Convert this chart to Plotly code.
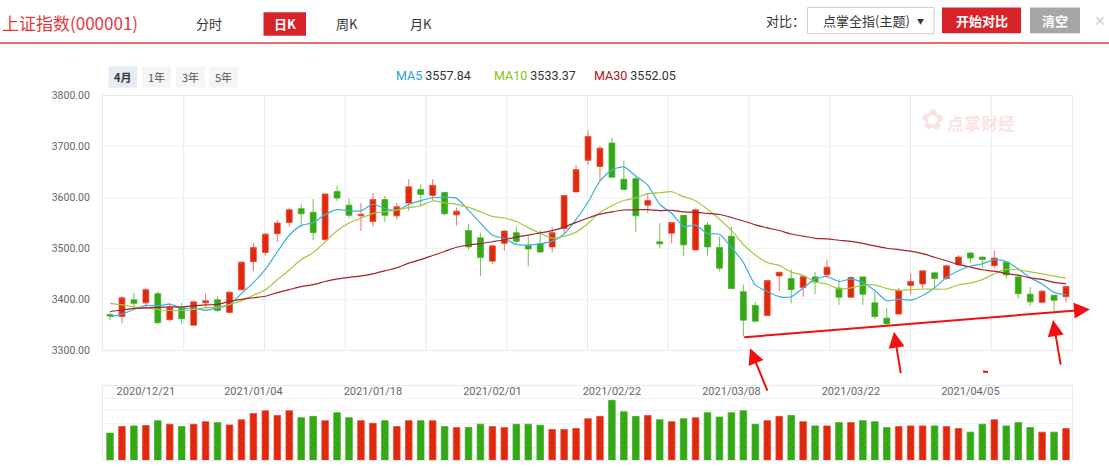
import plotly.graph_objects as go

# ---------------- data ----------------
tick_pos = [3, 12, 22, 32, 42, 52, 62, 72]
tick_text = ["2020/12/21", "2021/01/04", "2021/01/18", "2021/02/01",
             "2021/02/22", "2021/03/08", "2021/03/22", "2021/04/05"]

opens = [3370, 3366, 3399, 3393, 3411, 3360, 3384, 3349, 3393, 3399,
         3374, 3419, 3474, 3492, 3529, 3551, 3578, 3571, 3517, 3612,
         3585, 3564, 3553, 3596, 3564, 3589, 3616, 3604, 3610, 3566,
         3535, 3521, 3475, 3510, 3531, 3505, 3509, 3503, 3539, 3611,
         3720, 3661, 3707, 3616, 3637, 3594, 3513, 3530, 3565, 3497,
         3546, 3461, 3524, 3415, 3388, 3368, 3446, 3441, 3423, 3434,
         3448, 3422, 3404, 3444, 3393, 3352, 3371, 3427, 3430, 3452,
         3441, 3468, 3491, 3483, 3466, 3473, 3444, 3410, 3394, 3408,
         3405]
highs = [3374, 3406, 3413, 3423, 3415, 3393, 3393, 3397, 3411, 3406,
         3415, 3475, 3511, 3530, 3556, 3579, 3588, 3597, 3608, 3623,
         3599, 3589, 3609, 3603, 3590, 3636, 3626, 3636, 3611, 3580,
         3548, 3531, 3507, 3536, 3543, 3524, 3536, 3542, 3605, 3664,
         3732, 3701, 3718, 3672, 3644, 3607, 3550, 3552, 3566, 3578,
         3552, 3523, 3542, 3429, 3395, 3438, 3454, 3459, 3448, 3454,
         3478, 3439, 3445, 3445, 3415, 3383, 3422, 3450, 3457, 3453,
         3468, 3487, 3492, 3484, 3496, 3474, 3448, 3424, 3419, 3409,
         3427]
lows = [3359, 3353, 3384, 3382, 3352, 3356, 3352, 3347, 3383, 3375,
        3373, 3418, 3455, 3486, 3513, 3543, 3545, 3516, 3516, 3593,
        3559, 3534, 3543, 3552, 3556, 3574, 3583, 3594, 3565, 3545,
        3497, 3446, 3469, 3495, 3507, 3465, 3491, 3492, 3529, 3610,
        3664, 3632, 3639, 3615, 3532, 3569, 3500, 3510, 3485, 3496,
        3486, 3455, 3420, 3327, 3355, 3367, 3416, 3392, 3405, 3410,
        3441, 3389, 3403, 3389, 3362, 3346, 3370, 3410, 3422, 3422,
        3438, 3466, 3471, 3462, 3461, 3441, 3402, 3387, 3393, 3376,
        3394]
closes = [3367, 3403, 3392, 3419, 3354, 3384, 3362, 3395, 3397, 3378,
          3414, 3473, 3502, 3528, 3550, 3576, 3568, 3531, 3607, 3599,
          3565, 3567, 3596, 3565, 3582, 3621, 3606, 3624, 3568, 3573,
          3503, 3482, 3505, 3534, 3514, 3499, 3493, 3531, 3604, 3655,
          3673, 3697, 3640, 3636, 3564, 3585, 3509, 3551, 3507, 3576,
          3503, 3502, 3421, 3359, 3357, 3437, 3453, 3419, 3445, 3444,
          3463, 3404, 3443, 3410, 3366, 3363, 3418, 3435, 3456, 3441,
          3466, 3483, 3481, 3478, 3481, 3448, 3411, 3395, 3416, 3398,
          3425]
ma5 = [3366, 3371, 3380, 3388, 3387.0, 3390.4, 3382.2, 3382.8, 3378.4, 3383.2,
       3389.2, 3411.4, 3432.8, 3459.0, 3493.4, 3525.8, 3544.8, 3550.6, 3566.4, 3576.2,
       3574.0, 3573.8, 3586.8, 3578.4, 3575.0, 3586.2, 3594.0, 3599.6, 3600.2, 3598.4,
       3574.8, 3550.0, 3526.2, 3519.4, 3507.6, 3506.8, 3509.0, 3514.2, 3528.2, 3556.4,
       3591.2, 3632.0, 3653.8, 3660.2, 3642.0, 3624.4, 3586.8, 3569.0, 3543.2, 3545.6,
       3529.2, 3527.8, 3501.8, 3472.2, 3428.4, 3415.2, 3405.4, 3405.0, 3422.2, 3439.6,
       3444.8, 3435.0, 3439.8, 3432.8, 3417.2, 3397.2, 3400.0, 3398.4, 3407.6, 3422.6,
       3443.2, 3456.2, 3465.4, 3469.8, 3477.8, 3474.2, 3459.8, 3442.6, 3430.2, 3413.6,
       3409.0]
ma10 = [3392, 3389, 3385, 3383, 3380, 3378, 3378, 3380, 3383, 3385.1,
        3389.8, 3396.8, 3407.8, 3418.7, 3438.3, 3457.5, 3478.1, 3491.7, 3512.7, 3534.8,
        3549.9, 3559.3, 3568.7, 3572.4, 3575.6, 3580.1, 3583.9, 3593.2, 3589.3, 3586.7,
        3580.5, 3572.0, 3562.9, 3559.8, 3553.0, 3540.8, 3529.5, 3520.2, 3523.8, 3532.0,
        3549.0, 3570.5, 3584.0, 3594.2, 3599.2, 3607.8, 3609.4, 3611.4, 3601.7, 3593.8,
        3576.8, 3557.3, 3535.4, 3507.7, 3487.0, 3472.2, 3466.6, 3453.4, 3447.2, 3434.0,
        3430.0, 3420.2, 3422.4, 3427.5, 3428.4, 3421.0, 3417.5, 3419.1, 3420.2, 3419.9,
        3420.2, 3428.1, 3431.9, 3438.7, 3450.2, 3458.7, 3458.0, 3454.0, 3450.0, 3445.7,
        3441.6]
ma30 = [3376, 3379, 3382, 3383, 3384, 3385, 3385, 3387, 3389, 3390,
        3396, 3400, 3403, 3406, 3413, 3419, 3425, 3429, 3435, 3440,
        3443, 3446, 3450, 3456, 3462, 3471, 3478, 3486, 3494, 3502.2,
        3506.7, 3509.4, 3513.1, 3517.0, 3522.3, 3526.1, 3530.5, 3535.0, 3541.9, 3551.2,
        3559.8, 3567.3, 3571.9, 3575.5, 3575.9, 3576.2, 3574.3, 3574.9, 3571.6, 3570.8,
        3568.8, 3566.6, 3560.8, 3553.9, 3546.4, 3540.3, 3535.2, 3528.3, 3524.2, 3519.9,
        3518.6, 3516.0, 3513.9, 3509.8, 3504.9, 3500.3, 3497.8, 3494.6, 3489.7, 3482.6,
        3475.7, 3468.5, 3463.2, 3458.0, 3455.2, 3450.6, 3447.4, 3442.2, 3439.1, 3433.2,
        3430.6]
volumes = [82, 102, 104, 105, 120, 109, 102, 109, 117, 114,
           107, 123, 142, 150, 136, 150, 129, 133, 120, 144,
           129, 120, 112, 120, 102, 120, 120, 120, 102, 99,
           99, 109, 102, 99, 109, 109, 106, 93, 93, 96,
           126, 133, 182, 147, 133, 136, 123, 117, 126, 129,
           144, 131, 144, 150, 109, 120, 133, 136, 117, 104,
           104, 114, 114, 120, 117, 99, 102, 104, 104, 104,
           102, 96, 85, 109, 123, 104, 114, 99, 85, 85,
           96]
legend_items = [("MA5", "3557.84"), ("MA10", "3533.37"), ("MA30", "3552.05")]
period_labels = ["4月", "1年", "3年", "5年"]
tab_labels = ["分时", "日K", "周K", "月K"]

# ---------------- styling ----------------
W, H = 1109, 469
RED, RED_LINE = "#e0280c", "rgba(232,70,45,0.75)"
GREEN, GREEN_LINE = "#34a815", "rgba(60,175,30,0.75)"
MA_COLORS = ["#3ab0de", "#a3c940", "#a3232b"]
MA_TEXT = ["#1ea6da", "#8cc020", "#b0141c"]
GRID = "#e6ebf2"
FONT = "Roboto, Noto Sans CJK SC, sans-serif"
CJK = "Noto Sans CJK SC, sans-serif"


def px(x):
    return x / W


def py(y):
    return 1 - y / H


idx = list(range(len(closes)))
prev = [opens[0]] + closes[:-1]
up = [c >= p for c, p in zip(closes, prev)]

fig = go.Figure()

for flag, col, lcol in [(True, RED, RED_LINE), (False, GREEN, GREEN_LINE)]:
    sel = [i for i in idx if up[i] == flag]
    style = dict(fillcolor=col, line=dict(color=lcol, width=1))
    fig.add_trace(go.Candlestick(
        x=sel,
        open=[opens[i] for i in sel], high=[highs[i] for i in sel],
        low=[lows[i] for i in sel], close=[closes[i] for i in sel],
        increasing=style, decreasing=style, whiskerwidth=0,
        xaxis="x", yaxis="y", hoverinfo="skip", showlegend=False))

for series, col in zip([ma5, ma10, ma30], MA_COLORS):
    fig.add_trace(go.Scatter(
        x=idx, y=series, mode="lines",
        line=dict(color=col, width=1.2, shape="spline", smoothing=0.7),
        xaxis="x", yaxis="y", hoverinfo="skip", showlegend=False))

fig.add_trace(go.Bar(
    x=idx, y=volumes, width=0.55,
    marker=dict(color=[RED if u else GREEN for u in up],
                line=dict(color=[RED_LINE if u else GREEN_LINE for u in up], width=1)),
    xaxis="x2", yaxis="y2", hoverinfo="skip", showlegend=False))

xr = [-0.586, 80.5]
xdom = [px(103), px(1072)]

fig.update_layout(
    width=W, height=H, margin=dict(l=0, r=0, t=0, b=0),
    paper_bgcolor="white", plot_bgcolor="white",
    font=dict(family=FONT, color="#666"),
    showlegend=False,
    xaxis=dict(domain=xdom, range=xr, anchor="y", showgrid=False, zeroline=False,
               showticklabels=False, showline=True, linecolor=GRID, mirror=True,
               rangeslider=dict(visible=False), fixedrange=True),
    yaxis=dict(domain=[py(354), py(92.3)], range=[3300, 3800], dtick=100,
               tickformat=".2f", anchor="x", gridcolor="#f2f3f5", zeroline=False,
               showline=True, linecolor=GRID, mirror=True,
               tickfont=dict(size=10.5, color="#666", family=FONT),
               ticks="outside", ticklen=10, tickcolor="rgba(0,0,0,0)"),
    xaxis2=dict(domain=xdom, range=xr, anchor="y2", showgrid=False, zeroline=False,
                side="top", ticklabelposition="inside", tickvals=tick_pos,
                ticktext=tick_text, tickfont=dict(size=11, color="#666", family=FONT),
                showline=True, linecolor=GRID, mirror=True, ticks=""),
    yaxis2=dict(domain=[py(467), py(391)], range=[0, 225], dtick=37.5, anchor="x2",
                showticklabels=False, gridcolor="#eef1f5", zeroline=False,
                showline=True, linecolor=GRID, mirror=True),
)

shapes = []
# vertical grid of the price panel (12 equal divisions)
for k in range(1, 12):
    shapes.append(dict(type="line", xref="x domain", yref="y domain",
                       x0=k / 12, x1=k / 12, y0=0, y1=1,
                       line=dict(color=GRID, width=1), layer="below"))
# header line
shapes.append(dict(type="line", xref="paper", yref="paper", x0=0, x1=1,
                   y0=py(38), y1=py(38), line=dict(color="#e4393c", width=1.5)))
# tab button (日K)
shapes.append(dict(type="rect", xref="paper", yref="paper", x0=px(263.5), x1=px(306),
                   y0=py(30.5), y1=py(6.5), fillcolor="#d9232a", line=dict(width=0)))
# dropdown
shapes.append(dict(type="rect", xref="paper", yref="paper", x0=px(807.5), x1=px(934),
                   y0=py(28.5), y1=py(1.5), fillcolor="white",
                   line=dict(color="#cfcfcf", width=1)))
shapes.append(dict(type="rect", xref="paper", yref="paper", x0=px(942), x1=px(1021),
                   y0=py(28), y1=py(1.5), fillcolor="#d9232a", line=dict(width=0)))
shapes.append(dict(type="rect", xref="paper", yref="paper", x0=px(1030), x1=px(1080),
                   y0=py(28), y1=py(1.5), fillcolor="#a6a6a6", line=dict(width=0)))
# period buttons
for j, (x0, x1) in enumerate([(108.5, 137), (142, 171), (176, 205), (209, 238)]):
    shapes.append(dict(type="rect", xref="paper", yref="paper", x0=px(x0), x1=px(x1),
                       y0=py(84), y1=py(62),
                       fillcolor="#e6ebf5" if j == 0 else "#f5f5f5", line=dict(width=0)))
# small red pen mark above the 2021/04/05 label
shapes.append(dict(type="line", xref="paper", yref="paper", x0=px(983), x1=px(988),
                   y0=py(376), y1=py(376.5), line=dict(color="#f01010", width=2)))

ann = []


def text(x, y, s, size=13, color="#333", anchor="center", family=CJK, bold=False):
    ann.append(dict(xref="paper", yref="paper", x=px(x), y=py(y), text=f"<b>{s}</b>" if bold else s,
                    showarrow=False, xanchor=anchor, yanchor="middle",
                    font=dict(size=size, color=color, family=family)))


text(0, 17, "上证指数(000001)", size=17, color="#e4393c", anchor="left")
for lab, cx in zip(tab_labels, [209, 285, 347, 421]):
    text(cx, 17.5, lab, size=13, color="white" if lab == "日K" else "#333", bold=(lab == "日K"))
text(785, 15, "对比：", size=13, color="#333")
text(866, 15, "点掌全指(主题)", size=13, color="#333")
text(920, 15, "▼", size=7, color="#333")
text(981.5, 15, "开始对比", size=13, color="white", bold=True)
text(1055, 15, "清空", size=13, color="white", bold=True)
text(1100, 14, "✕", size=14, color="#d0d0d0")
for j, (lab, cx) in enumerate(zip(period_labels, [122.7, 156.5, 190.5, 223.5])):
    text(cx, 73, lab, size=11, color="#333" if j == 0 else "#555", bold=(j == 0))
for (name, val), cx, tc in zip(legend_items, [393.5, 492, 592], MA_TEXT):
    ann.append(dict(xref="paper", yref="paper", x=px(cx), y=py(71),
                    text=f"<span style='color:{tc}'>{name}</span> <span style='color:#333'>{val}</span>",
                    showarrow=False, xanchor="left", yanchor="middle",
                    font=dict(size=12.5, family=FONT)))
# watermark
text(932, 117, "✿", size=28, color="rgba(225,80,80,0.18)", family="DejaVu Sans")
text(981, 120, "<b>点掌财经</b>", size=17, color="rgba(225,80,80,0.18)")

# red trend line + arrows
arrows = [((1090, 312), (742.7, 340)),
          ((750, 352), (768, 396)),
          ((894, 335), (901, 378)),
          ((1053, 323), (1061, 369))]
for (hx, hy), (tx, ty) in arrows:
    ann.append(dict(xref="paper", yref="paper", x=px(hx), y=py(hy),
                    ax=tx - hx, ay=ty - hy, axref="pixel", ayref="pixel",
                    showarrow=True, arrowhead=2, arrowsize=1.6, arrowwidth=2,
                    arrowcolor="#f01010", text=""))

fig.update_layout(shapes=shapes, annotations=ann)
post = ("document.documentElement.style.margin='0';"
        "document.body.style.margin='0';document.body.style.overflow='hidden';"
        "var d=document.getElementById('{plot_id}');"
        "d.style.position='fixed';d.style.left='0px';d.style.top='0px';")
fig.write_html("out.html", config={"displayModeBar": False}, post_script=post)
